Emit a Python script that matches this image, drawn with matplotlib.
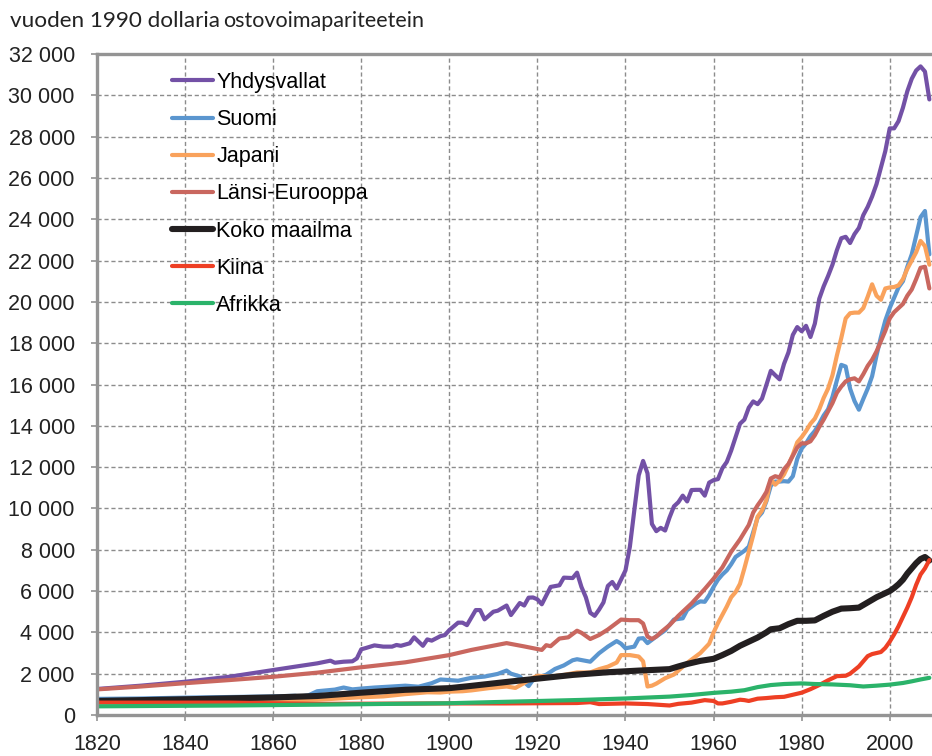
import matplotlib
matplotlib.use("Agg")
import matplotlib.pyplot as plt
from matplotlib.ticker import FuncFormatter, MultipleLocator

# --- data (1990 GK$ per capita) ---
us_years = [1820, 1830, 1840, 1850, 1860, 1865, 1870, 1873, 1874, 1876, 1878, 1879,
            1880, 1881, 1883, 1885, 1887, 1888, 1889, 1891, 1892, 1894, 1895, 1896,
            1898, 1899, 1900, 1902, 1903, 1904, 1906, 1907, 1908, 1910, 1911, 1913,
            1914, 1916, 1917, 1918, 1919, 1920, 1921, 1923, 1925, 1926, 1928] + list(range(1929, 2010))
us_values = [1260, 1420, 1610, 1850, 2180, 2340, 2500, 2630, 2530, 2580, 2600, 2740,
             3180, 3240, 3370, 3310, 3310, 3390, 3350, 3470, 3760, 3350, 3660, 3600,
             3820, 3870, 4110, 4470, 4470, 4350, 5080, 5080, 4630, 5000, 5050, 5300,
             4840, 5420, 5300, 5680, 5690, 5600, 5360, 6200, 6280, 6650, 6630,
             6890, 6200, 5700, 4950, 4800, 5100, 5450, 6250, 6440, 6120, 6560, 7000,
             8150, 9900, 11600, 12300, 11700, 9250, 8900, 9060, 8930, 9560, 10100,
             10300, 10620, 10340, 10890, 10900, 10900, 10620, 11250, 11370,
             11420, 11950, 12250, 12800, 13450, 14100, 14300, 14880, 15180, 15050,
             15320, 15980, 16660, 16450, 16250, 17000, 17550, 18400, 18780, 18580,
             18840, 18300, 18950, 20150, 20750, 21250, 21800, 22500, 23080, 23150,
             22850, 23280, 23580, 24200, 24600, 25100, 25700, 26500, 27300, 28400,
             28400, 28750, 29400, 30200, 30800, 31200, 31400, 31150, 29800]

fi_years = [1820, 1830, 1840, 1850, 1860, 1865, 1866, 1868, 1870, 1872, 1874, 1876,
            1878, 1880, 1883, 1887, 1890, 1893, 1896, 1898, 1900, 1902, 1905, 1908,
            1911, 1913, 1914, 1916, 1917, 1918, 1919, 1920, 1922, 1924, 1926, 1928,
            1929, 1931, 1932, 1934, 1936, 1938, 1939, 1940, 1942, 1943, 1944, 1945,
            1947, 1949, 1951, 1953, 1954, 1956, 1957, 1958, 1959] + list(range(1960, 2010))
fi_values = [780, 800, 840, 870, 900, 930, 890, 950, 1150, 1190, 1230, 1330,
             1240, 1280, 1330, 1380, 1420, 1370, 1540, 1720, 1690, 1660, 1800, 1860,
             1990, 2150, 2000, 1870, 1600, 1400, 1700, 1800, 1950, 2230, 2400, 2650,
             2700, 2620, 2580, 2990, 3310, 3580, 3450, 3230, 3310, 3700, 3720, 3480,
             3800, 4100, 4620, 4680, 5080, 5400, 5500, 5480, 5800,
             6200, 6550, 6800, 7000, 7300, 7650, 7800, 7950, 8150, 8850,
             9550, 9800, 10350, 11100, 11300, 11300, 11320, 11300, 11560, 12400,
             12900, 13150, 13500, 13750, 14100, 14500, 14800, 15400, 16200, 16950,
             16870, 15800, 15200, 14780, 15300, 15800, 16400, 17400, 18300, 19100,
             19700, 20200, 20700, 21000, 21700, 22300, 23200, 24100, 24400, 22300]

jp_years = [1820, 1850, 1870, 1880, 1885, 1890, 1895, 1898, 1900, 1903, 1905, 1909,
            1913, 1915, 1917, 1919, 1920, 1923, 1926, 1929, 1932, 1934, 1936, 1938,
            1939, 1941, 1943, 1944, 1945, 1946, 1947, 1949, 1951, 1954, 1957,
            1959] + list(range(1960, 2010))
jp_values = [670, 680, 740, 860, 900, 1010, 1100, 1090, 1130, 1150, 1190, 1300,
             1380, 1310, 1550, 1800, 1900, 1860, 1940, 2060, 2060, 2220, 2340, 2540,
             2900, 2900, 2830, 2600, 1380, 1420, 1520, 1780, 1960, 2520, 3000,
             3450,
             3990, 4450, 4850, 5250, 5700, 5950, 6350, 7100, 7900, 8700,
             9600, 9900, 10400, 11400, 11150, 11350, 11650, 12100, 12600, 13200,
             13450, 13750, 14100, 14350, 14800, 15350, 15800, 16450, 17400, 18250,
             19200, 19450, 19480, 19480, 19700, 20250, 20850, 20300, 20100, 20650,
             20700, 20720, 20800, 21100, 21600, 22000, 22400, 22950, 22700, 21800]

we_years = [1820, 1830, 1840, 1850, 1860, 1870, 1880, 1890, 1900, 1905, 1913, 1917,
            1921, 1922, 1923, 1925, 1927, 1929, 1930, 1932, 1934, 1936, 1938, 1939,
            1941, 1943, 1944, 1945, 1946, 1947, 1948, 1950, 1952, 1955, 1958, 1960,
            1962, 1964, 1966, 1968, 1969] + list(range(1970, 2010))
we_values = [1240, 1380, 1540, 1690, 1850, 2050, 2310, 2550, 2900, 3150, 3480, 3320,
             3150, 3380, 3330, 3700, 3760, 4080, 3980, 3680, 3870, 4140, 4460, 4620,
             4590, 4590, 4430, 3800, 3680, 3800, 4000, 4350, 4800, 5400, 6100, 6600,
             7150, 7900, 8500, 9200, 9800,
             10150, 10450, 10800, 11450, 11560, 11500, 11900, 12150, 12550, 12950,
             13150, 13150, 13250, 13550, 13950, 14300, 14700, 15100, 15600, 15900,
             16150, 16250, 16300, 16150, 16500, 16900, 17200, 17600, 18100, 18600,
             19200, 19500, 19700, 19900, 20300, 20600, 21100, 21650, 21700, 20650]

world_years = [1820, 1840, 1860, 1870, 1880, 1890, 1900, 1905, 1913, 1920, 1928, 1936,
               1943, 1950, 1952, 1954, 1957, 1960, 1962, 1964, 1966, 1968, 1970, 1972,
               1973, 1975, 1977, 1979, 1981, 1983, 1985, 1987, 1989, 1991, 1993, 1995,
               1997, 1999, 2000, 2001, 2002, 2003, 2004, 2005, 2006, 2007, 2008, 2009]
world_values = [680, 760, 850, 920, 1080, 1220, 1300, 1410, 1600, 1760, 1940, 2070,
                2150, 2220, 2350, 2470, 2620, 2720, 2900, 3100, 3350, 3550, 3750, 4000,
                4150, 4200, 4400, 4560, 4560, 4580, 4800, 5000, 5150, 5170, 5200, 5450,
                5700, 5900, 6000, 6150, 6330, 6550, 6850, 7100, 7350, 7550, 7650, 7480]

cn_years = [1820, 1850, 1870, 1900, 1913, 1929, 1932, 1934, 1940, 1945, 1950, 1952,
            1955, 1958, 1959, 1960, 1961, 1962, 1964, 1966, 1967, 1968, 1970, 1972,
            1974, 1976, 1978, 1980, 1982, 1984, 1986, 1988, 1990, 1991, 1993, 1995,
            1996, 1997, 1998, 1999, 2000, 2001, 2002, 2003, 2004, 2005, 2006, 2007,
            2008, 2009]
cn_values = [600, 600, 540, 560, 560, 580, 620, 530, 560, 530, 460, 540,
             600, 720, 700, 680, 560, 560, 640, 740, 720, 680, 790, 820,
             860, 880, 980, 1080, 1250, 1450, 1680, 1880, 1900, 2000, 2350, 2850,
             2950, 3000, 3050, 3250, 3550, 3900, 4300, 4750, 5200, 5700, 6300, 6800,
             7100, 7500]

af_years = [1820, 1850, 1870, 1900, 1913, 1930, 1940, 1950, 1955, 1960, 1964, 1967,
            1970, 1973, 1976, 1980, 1983, 1987, 1991, 1994, 1997, 2000, 2003, 2005,
            2007, 2009]
af_values = [420, 460, 500, 570, 640, 730, 800, 890, 970, 1070, 1130, 1200,
             1350, 1450, 1500, 1530, 1500, 1480, 1440, 1380, 1420, 1470, 1550, 1630,
             1720, 1800]

labels = ["Yhdysvallat", "Suomi", "Japani", "Länsi-Eurooppa", "Koko maailma", "Kiina", "Afrikka"]
colors = ["#7351A6", "#5B96CF", "#F9A25C", "#C9675F", "#231F20", "#EE3F24", "#2BB36A"]
widths = [3.0, 3.0, 3.0, 3.0, 4.4, 3.0, 3.0]

series = [(us_years, us_values), (fi_years, fi_values), (jp_years, jp_values),
          (we_years, we_values), (world_years, world_values), (cn_years, cn_values),
          (af_years, af_values)]

plt.rcParams['font.family'] = ['Liberation Sans', 'DejaVu Sans']

fig = plt.figure(figsize=(9.32, 7.56), dpi=100)
ax = fig.add_axes([97 / 932, 41 / 756, 835 / 932, 661 / 756])

for (x, y), lab, c, w in zip(series, labels, colors, widths):
    ax.plot(x, y, color=c, lw=w, label=lab, solid_joinstyle='round', solid_capstyle='round')

ax.set_xlim(1820, 2009.6)
ax.set_ylim(0, 32000)
ax.xaxis.set_major_locator(MultipleLocator(20))
ax.yaxis.set_major_locator(MultipleLocator(2000))
ax.yaxis.set_major_formatter(FuncFormatter(lambda v, p: f"{int(v):,}".replace(",", " ")))

ax.grid(True, color="#8C8C8C", linestyle=(0, (3, 2)), linewidth=1.0)
ax.set_axisbelow(True)
for side in ["left", "bottom", "top"]:
    ax.spines[side].set_color("#949494")
    ax.spines[side].set_linewidth(2.4)
ax.spines["right"].set_visible(False)
ax.tick_params(axis="both", colors="#949494", labelcolor="#222222", labelsize=15.5,
               length=4, width=1.2)
ax.tick_params(axis="y", pad=12)
ax.tick_params(axis="x", pad=10)

leg = ax.legend(loc="upper left", bbox_to_anchor=(172 / 932, 684 / 756),
                bbox_transform=fig.transFigure, frameon=False, fontsize=15.5,
                handlelength=1.9, handletextpad=0.15, labelspacing=0.75, borderpad=0,
                borderaxespad=0)

fig.text(10 / 932, 1 - 27 / 756, "vuoden 1990 dollaria", fontsize=16.2,
         family=["Lato", "DejaVu Sans"], va="baseline", color="#222222")
fig.text(223 / 932, 1 - 27 / 756, "ostovoimapariteetein", fontsize=15.5,
         family=["Lato", "DejaVu Sans"], va="baseline", color="#222222")

fig.savefig("out.png", dpi=100)
